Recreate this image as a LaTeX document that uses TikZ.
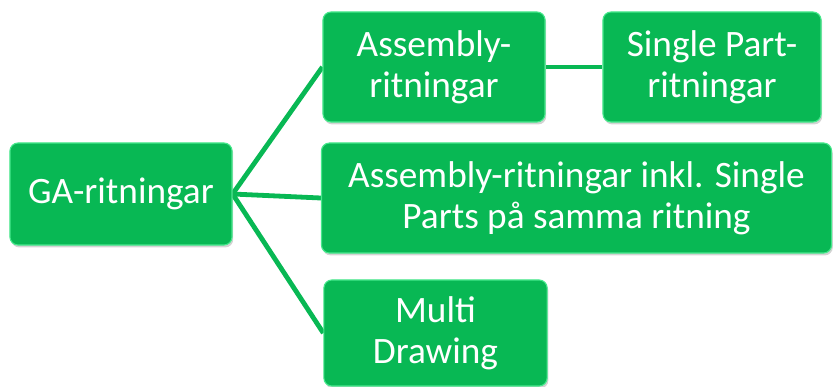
\documentclass[tikz,border=0pt]{standalone}
\usepackage{fontspec}
\setmainfont{Carlito}
\usepackage{xcolor}
\usepackage{tikz}
\usetikzlibrary{positioning,shadows,backgrounds}

\definecolor{gagreen}{RGB}{8,184,84}
\definecolor{galight}{RGB}{70,232,140}

\tikzset{
  box/.style={rectangle, rounded corners=0.2cm, fill=gagreen,
              draw=galight, line width=0.8pt, text=white, align=center,
              font=\fontsize{26.5}{29}\selectfont,
              drop shadow={shadow xshift=0.03cm, shadow yshift=-0.06cm, opacity=0.35},
              inner sep=0pt},
  link/.style={draw=gagreen, line width=0.12cm}
}

\begin{document}
\begin{tikzpicture}[x=0.025cm,y=-0.025cm]
  \useasboundingbox (0,0) rectangle (834,387);

  \node [box, minimum width=5.55cm, minimum height=2.55cm] (ga) at (121,194) {GA-ritningar};
  \node [box, minimum width=5.55cm, minimum height=2.75cm] (asm) at (434,67) {Assembly-\\ritningar};
  \node [box, minimum width=5.45cm, minimum height=2.75cm] (single) at (712,67) {Single Part-\\ritningar};
  \node [box, minimum width=12.75cm, minimum height=2.75cm] (incl) at (576.5,198)
        {Assembly-ritningar inkl. Single\\Parts på samma ritning};
  \node [box, minimum width=5.58cm, minimum height=2.65cm] (multi) at (435.5,333) {Multi\\Drawing};

  % tree lines
  \begin{scope}[on background layer]
    \draw [link] (ga.east) -- (asm.west);
    \draw [link] (ga.east) -- (incl.west);
    \draw [link] (ga.east) -- (multi.west);
    \draw [link] (asm.east) -- (single.west);
  \end{scope}
\end{tikzpicture}
\end{document}
